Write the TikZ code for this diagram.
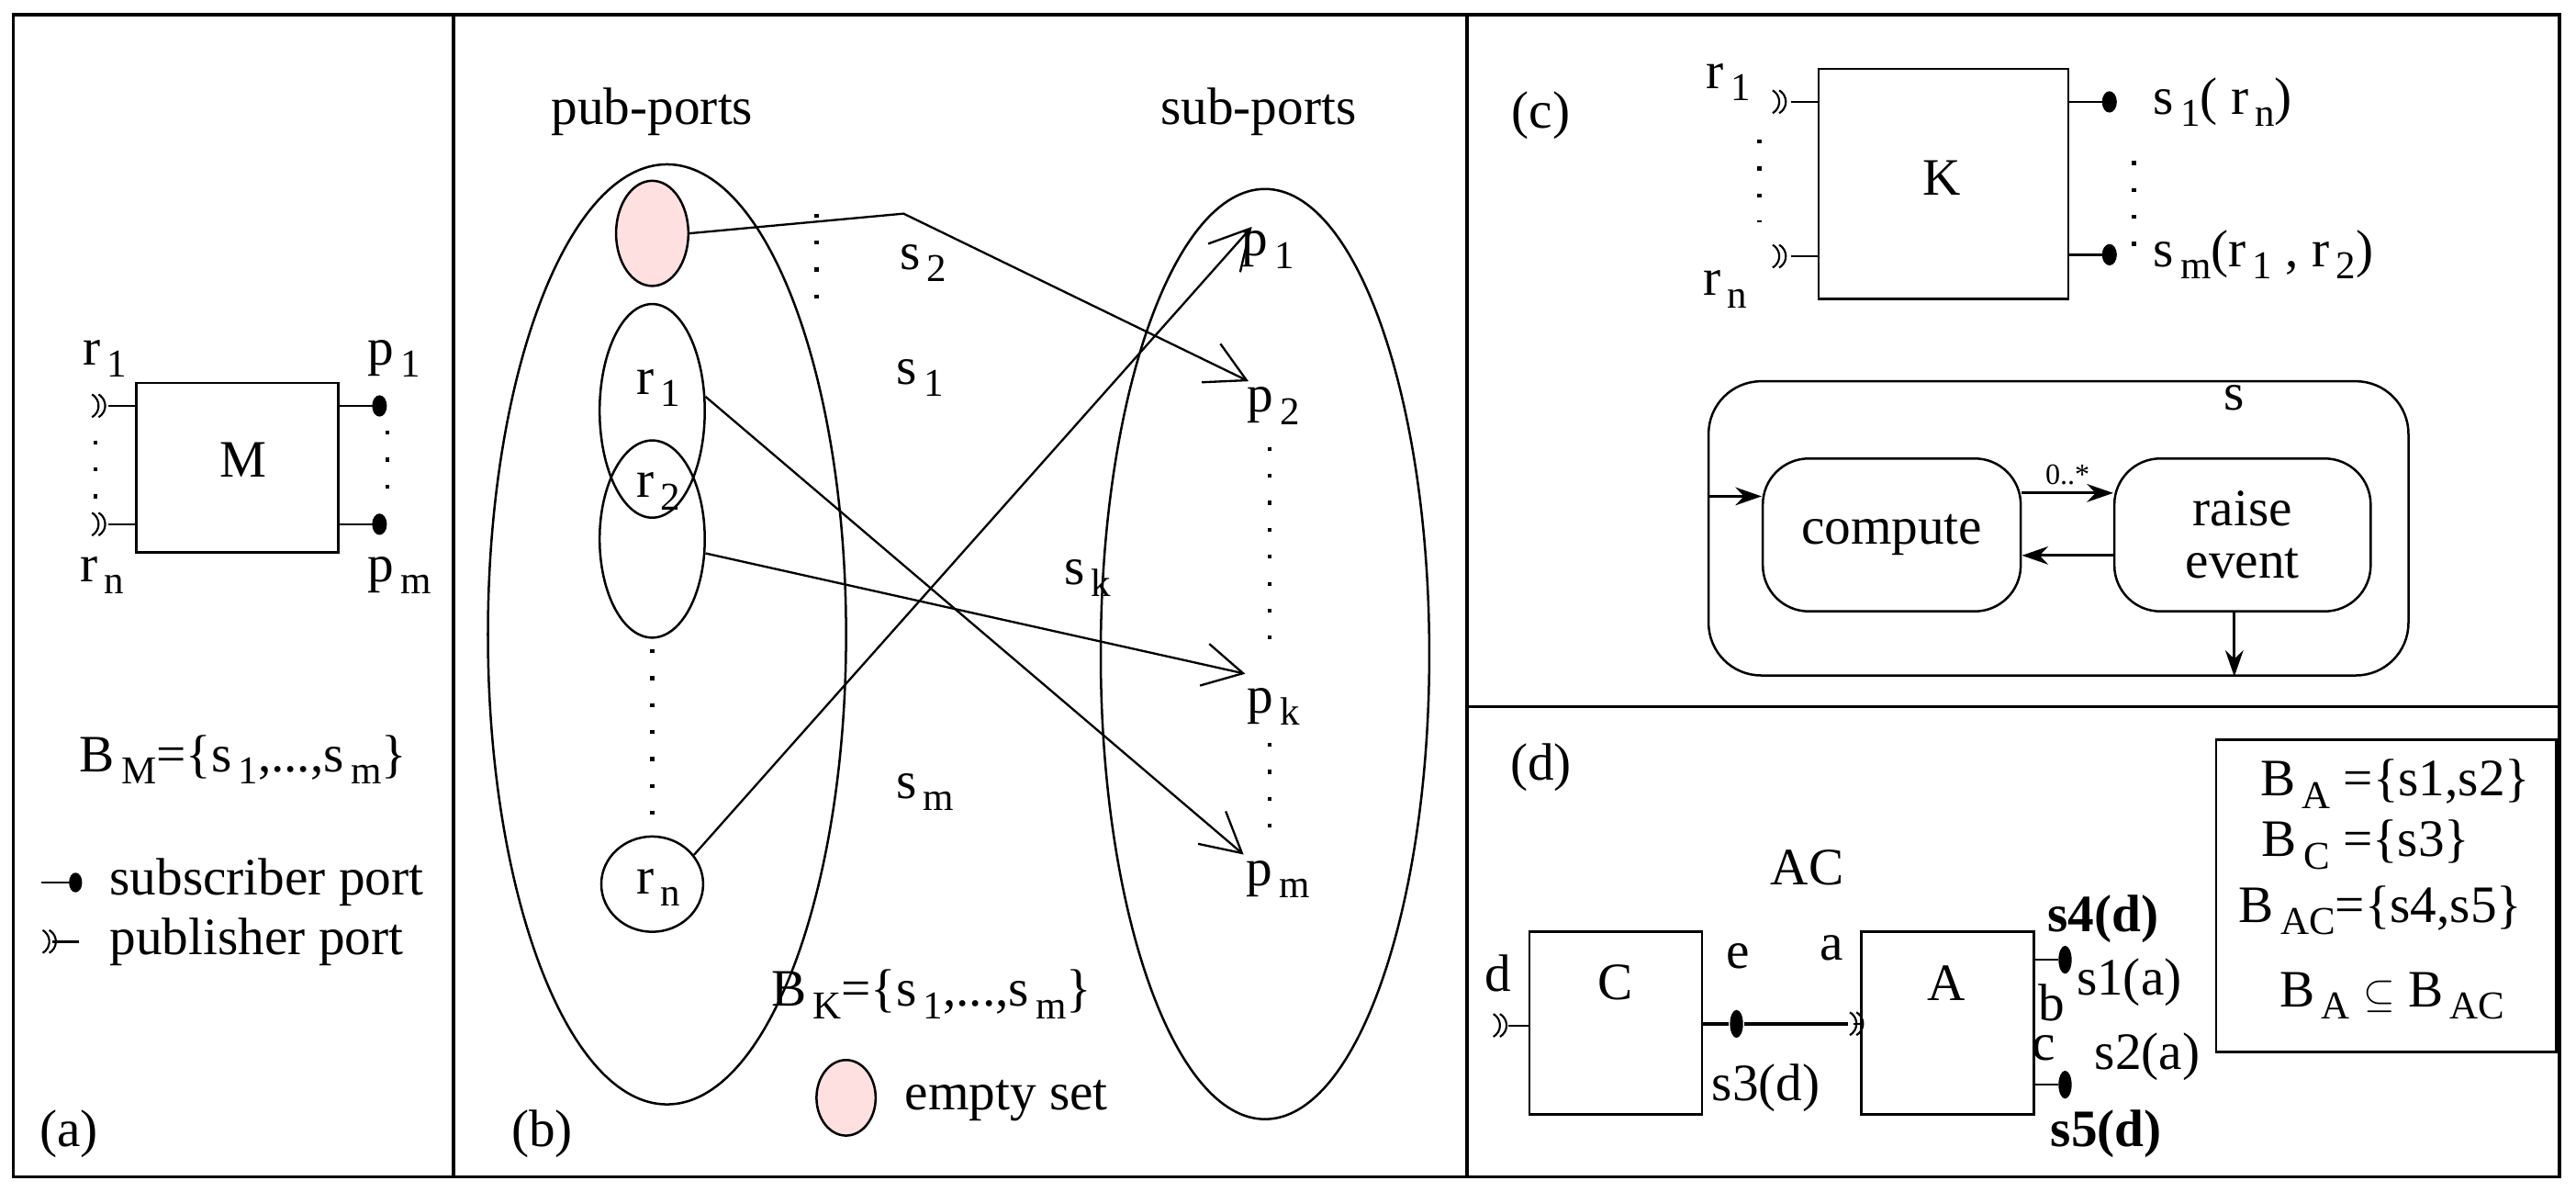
\documentclass[tikz,border=0pt]{standalone}
\usepackage{fontspec}
\setmainfont{Liberation Serif}
\usetikzlibrary{arrows.meta,shapes.geometric}
\newcommand\sbx[1]{\raisebox{-0.5ex}{\fontsize{24}{26}\selectfont\,#1}}
\begin{document}
\begin{tikzpicture}[x=1pt,y=-1pt,line width=1.6pt,
  every node/.style={font=\rmfamily\fontsize{32}{36}\selectfont,inner sep=0pt},
  ell/.style={draw,ellipse,line width=1.4pt},
  barb/.style={line width=1.3pt,-{Straight Barb[length=24pt,width=26pt,line width=1.3pt]}},
  stl/.style={line width=1.6pt,-{Stealth[length=16pt,width=11pt]}},
  box/.style={draw,line width=1.4pt},
  dotf/.style={fill=black,ellipse,minimum width=9pt,minimum height=13pt,inner sep=0pt},
  pub/.pic={\draw[line width=1.2pt] (0,-7) arc[start angle=-60,end angle=60,radius=8];
            \draw[line width=1.2pt] (-4,-7) arc[start angle=-60,end angle=60,radius=8];},
  vd/.style={line width=2.4pt,dash pattern=on 2.4pt off 14pt}]
\useasboundingbox (0,0) rectangle (1568,725);
% frames
\draw[line width=2pt] (8,9) rectangle (1558,716);
\draw[line width=1.8pt] (276,9) -- (276,716) (893,9) -- (893,716) (893,430) -- (1558,430);
% ---------- (a)
\node[box,minimum width=123pt,minimum height=103pt] (M) at (144.5,284.5) {};
\node (Mt) at (148,280) {M};
\draw[line width=1.3pt] (83,247) -- (66,247) (83,319) -- (66,319);
\pic at (60,247) {pub}; \pic at (60,319) {pub};
\draw[line width=1.3pt] (206,247) -- (228,247) (206,319) -- (228,319);
\node[dotf] (pa1) at (231,247) {}; \node[dotf] (pa2) at (231,319) {};
\draw[vd] (58,268) -- (58,305); \draw[vd] (236,262) -- (236,305);
\node (ra1) at (64,218) {r\sbx{1}};
\node (ran) at (62,350) {r\sbx{n}};
\node (pp1) at (240,218) {p\sbx{1}};
\node (ppm) at (243,350) {p\sbx{m}};
\node (BM) at (148,462) {B\sbx{M}=\{s\sbx{1},...,s\sbx{m}\}};
\draw[line width=1.3pt] (25,537) -- (42,537); \node[dotf,minimum width=8pt,minimum height=12pt] (ld) at (46,537) {};
\node[anchor=west] (lsub) at (66,537) {subscriber port};
\pic at (30,573) {pub}; \draw[line width=1.3pt] (32,573) -- (48,573);
\node[anchor=west] (lpub) at (66,573) {publisher port};
\node (la) at (42,690) {(a)};
% ---------- (b)
\node (pubp) at (397,68) {pub-ports};
\node (subp) at (766,68) {sub-ports};
\node[ell,minimum width=218pt,minimum height=572pt] (L) at (406,386) {};
\node[ell,minimum width=200pt,minimum height=566pt] (R) at (770,398) {};
\node[ell,fill=red!12,minimum width=44pt,minimum height=64pt] (pk) at (397,142) {};
\node[ell,minimum width=64pt,minimum height=130pt] (e1) at (397,250) {};
\node[ell,minimum width=64pt,minimum height=120pt] (e2) at (397,328) {};
\node[ell,minimum width=62pt,minimum height=58pt] (en) at (397,538) {};
\node (r1) at (401,236) {r\sbx{1}};
\node (r2) at (401,299) {r\sbx{2}};
\node (rn) at (401,540) {r\sbx{n}};
\draw[vd] (397,395) -- (397,500);
\draw[vd] (497,130) -- (497,190);
\node (p1) at (772,152) {p\sbx{1}};
\node (p2) at (775,247) {p\sbx{2}};
\node (pkk) at (775,430) {p\sbx{k}};
\node (pm) at (778,535) {p\sbx{m}};
\draw[vd] (773,272) -- (773,402);
\draw[vd] (773,452) -- (773,505);
\coordinate (c2) at (550,130);
\draw[barb] (pk.east) -- (c2) -- (760,232);
\draw[barb] (e1.15) -- (757,520);
\draw[barb] (e2.-15) -- (758,410);
\draw[barb] (en.35) -- (762,138);
\node (s2) at (562,160) {s\sbx{2}};
\node (s1) at (560,230) {s\sbx{1}};
\node (sk) at (662,352) {s\sbx{k}};
\node (sm) at (563,482) {s\sbx{m}};
\node (BK) at (567,605) {B\sbx{K}=\{s\sbx{1},...,s\sbx{m}\}};
\node[ell,fill=red!12,minimum width=36pt,minimum height=46pt] (leg) at (515,668) {};
\node[anchor=west] (es) at (550,670) {empty set};
\node (lb) at (330,690) {(b)};
% ---------- (c)
\node (lc) at (938,70) {(c)};
\node[box,minimum width=152pt,minimum height=140pt] (K) at (1183,112) {};
\node (Kt) at (1182,108) {K};
\draw[line width=1.3pt] (1107,62) -- (1090,62) (1107,156) -- (1090,156);
\pic at (1083,62) {pub}; \pic at (1083,156) {pub};
\draw[vd] (1071,85) -- (1071,135);
\draw[line width=1.3pt] (1259,62) -- (1280,62) (1259,155) -- (1280,155);
\node[dotf] (kd1) at (1284,62) {}; \node[dotf] (kd2) at (1284,155) {};
\draw[vd] (1299,98) -- (1299,150);
\node (kr1) at (1052,50) {r\sbx{1}};
\node (krn) at (1050,176) {r\sbx{n}};
\node[anchor=west] (ks1) at (1310,62) {s\sbx{1}( r\sbx{n})};
\node[anchor=west] (ksm) at (1310,155) {s\sbx{m}(r\sbx{1} , r\sbx{2})};
\node[box,rounded corners=32pt,minimum width=426pt,minimum height=179pt] (S) at (1253,321.5) {};
\node (st) at (1360,242) {s};
\node[box,rounded corners=28pt,minimum width=157pt,minimum height=93pt] (comp) at (1151.5,325.5) {compute};
\node[box,rounded corners=28pt,minimum width=156pt,minimum height=93pt,align=center,font=\rmfamily\fontsize{32}{32}\selectfont] (rais) at (1365,325.5) {raise\\event};
\draw[stl] (S.west |- 0,302) -- (comp.west |- 0,302);
\draw[stl] (comp.east |- 0,300) -- node[above=4pt,font=\rmfamily\fontsize{18}{20}\selectfont] {0..*} (rais.west |- 0,300);
\draw[stl] (rais.west |- 0,338) -- (comp.east |- 0,338);
\draw[stl] (rais.south -| 1360,0) -- (S.south -| 1360,0);
% ---------- (d)
\node (ld) at (938,467) {(d)};
\node (AC) at (1100,528) {AC};
\node[box,minimum width=105pt,minimum height=111pt] (C) at (983.5,622.5) {};
\node (Ct) at (983,598) {C};
\node[box,minimum width=105pt,minimum height=111pt] (A) at (1185.5,622.5) {};
\node (At) at (1185,598) {A};
\draw[line width=1.3pt] (C.west |- 0,624) -- (918,624);
\pic at (913,624) {pub};
\node (dd) at (912,592) {d};
\node[dotf,minimum width=8pt,minimum height=17pt] (e) at (1057,623) {};
\draw[line width=1.8pt] (C.east |- 0,623) -- (e) -- (1125,623);
\pic at (1130,623) {pub};
\draw[line width=1.3pt] (1128,623) -- (A.west |- 0,623);
\node (el) at (1058,582) {e};
\node (al) at (1115,577) {a};
\node (s3) at (1075,662) {s3(d)};
\draw[line width=1.3pt] (A.east |- 0,584) -- (1253,584) (A.east |- 0,660) -- (1253,660);
\node[dotf,minimum width=8pt,minimum height=17pt] (bd) at (1257,584) {};
\node[dotf,minimum width=8pt,minimum height=17pt] (cd) at (1257,660) {};
\node (s4) at (1280,559) {\bfseries s4(d)};
\node (s5) at (1282,690) {\bfseries s5(d)};
\node (s1a) at (1296,598) {s1(a)};
\node (s2a) at (1307,643) {s2(a)};
\node (bl) at (1249,610) {b};
\node (cl) at (1244,638) {c};
\node[box,minimum width=207pt,minimum height=190pt] (BB) at (1452.5,545) {};
\node[anchor=west] (b1) at (1375,477) {B\sbx{A} =\{s1,s2\}};
\node[anchor=west] (b2) at (1376,514) {B\sbx{C} =\{s3\}};
\node[anchor=west] (b3) at (1362,554) {B\sbx{AC}=\{s4,s5\}};
\node[anchor=west] (b4) at (1387,606) {B\sbx{A} {\fontsize{40}{40}\selectfont$\subseteq$} B\sbx{AC}};
\end{tikzpicture}
\end{document}
